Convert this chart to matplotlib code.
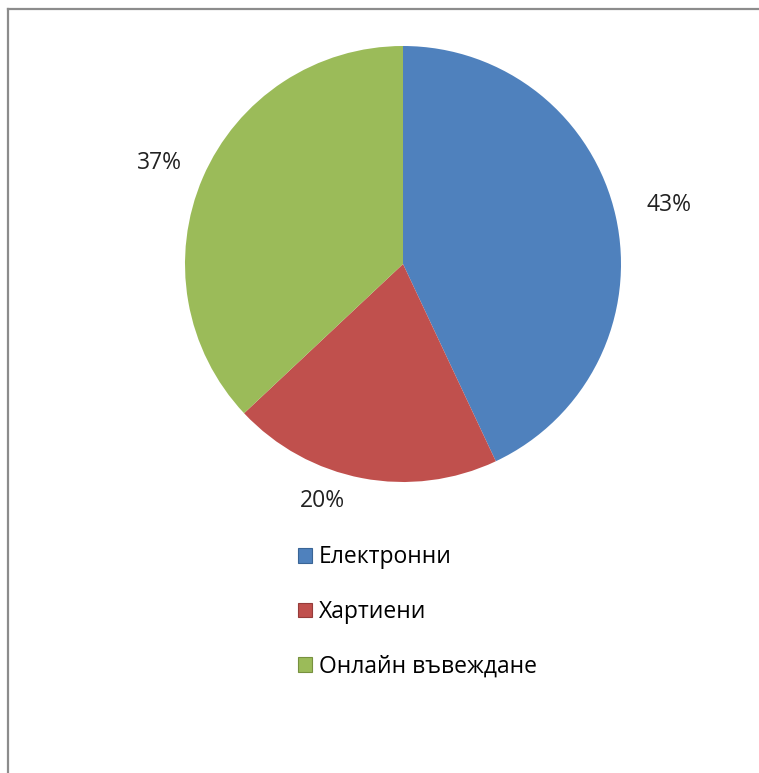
import numpy as np
import matplotlib.pyplot as plt
from matplotlib.lines import Line2D
from matplotlib.patches import Patch

# data
categories = ["Електронни", "Хартиени", "Онлайн въвеждане"]
shares = [43, 20, 37]
colors = ["#4F81BD", "#C0504D", "#9BBB59"]
edge_colors = ["#3A6596", "#963C3A", "#77913F"]

plt.rcParams["font.family"] = ["Open Sans", "DejaVu Sans"]

W, H = 759, 773
fig = plt.figure(figsize=(W / 100, H / 100), dpi=100)

# pie centred at (403, 264) px, radius 218 px
cx, cy, r = 403, 264, 218
ax = fig.add_axes([(cx - r) / W, (H - cy - r) / H, 2 * r / W, 2 * r / H])
wedges, _ = ax.pie(shares, colors=colors, startangle=90, counterclock=False,
                   radius=1, wedgeprops=dict(linewidth=0))
ax.set_xlim(-1, 1)
ax.set_ylim(-1, 1)
ax.set_aspect("equal")
ax.axis("off")

# percentage labels (Excel "best fit" style placement)
label_r = [1.25, 1.15, 1.21]
angle_shift = [0, -8, 1]
for w, v, lr, da in zip(wedges, shares, label_r, angle_shift):
    mid = np.deg2rad((w.theta1 + w.theta2) / 2 + da)
    ax.text(lr * np.cos(mid), lr * np.sin(mid), f"{v}%", ha="center",
            va="center", fontsize=16.5, color="#222222", clip_on=False)

# legend
handles = [Patch(facecolor=c, edgecolor=e, linewidth=0.8)
           for c, e in zip(colors, edge_colors)]
fig.legend(handles, categories, loc="upper left",
           bbox_to_anchor=(287 / W, 1 - 534 / H), frameon=False,
           fontsize=16.5, handlelength=0.6, handleheight=0.6,
           handletextpad=0.3, labelspacing=1.33, borderpad=0)

# chart-area border (only top and left visible)
fig.add_artist(Line2D([8 / W, 1], [1 - 9 / H, 1 - 9 / H], color="#8C8C8C",
                      linewidth=1.6, transform=fig.transFigure))
fig.add_artist(Line2D([8 / W, 8 / W], [0, 1 - 9 / H], color="#8C8C8C",
                      linewidth=1.6, transform=fig.transFigure))

fig.savefig("out.png", dpi=100, facecolor="white")
